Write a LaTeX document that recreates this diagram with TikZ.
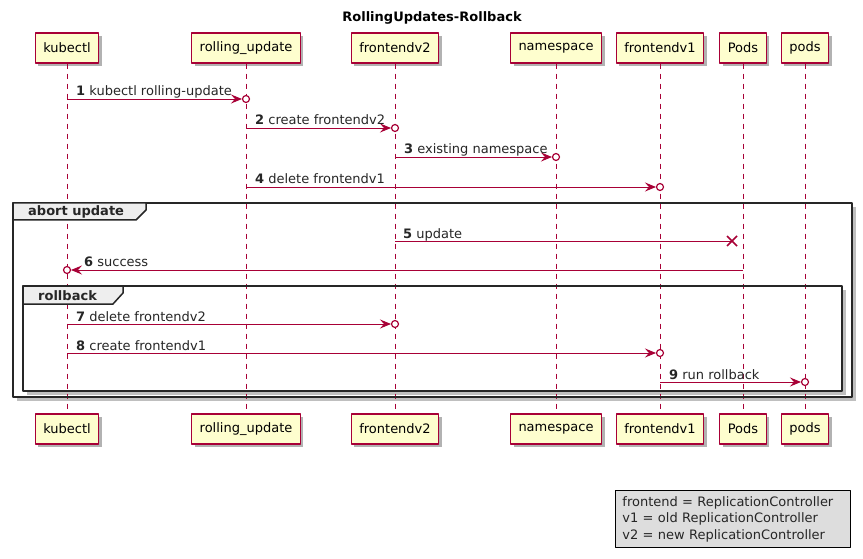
\documentclass[tikz,border=0pt]{standalone}
\usepackage{fontspec}
\setmainfont{DejaVu Sans}
\usetikzlibrary{arrows.meta,shadows}
\definecolor{umlred}{HTML}{A80036}
\definecolor{umlfill}{HTML}{FEFECE}
\definecolor{tabgray}{HTML}{EEEEEE}
\definecolor{notegray}{HTML}{DDDDDD}
\tikzset{
  part/.style={draw=umlred, fill=umlfill, line width=1.2pt, minimum height=30pt, inner xsep=8pt,
    drop shadow={shadow xshift=3pt, shadow yshift=-3pt, opacity=.3, fill=black}},
  life/.style={umlred, line width=.8pt, dash pattern=on 5pt off 5pt},
  msg/.style={umlred, line width=.9pt, -{Stealth[length=11pt,width=9pt,inset=4pt]}, shorten >=4pt},
  endcirc/.style={umlred, line width=1.2pt, fill=white},
  lbl/.style={anchor=base west, inner sep=0pt, text=black!85},
  frm/.style={black!85, line width=1.5pt},
  tabbox/.style={draw=black!85, fill=tabgray, line width=1.5pt},
  frmshadow/.style={fill=black, opacity=.25},
}
\begin{document}
\begin{tikzpicture}[x=1pt, y=-1pt, font=\fontsize{13}{15}\selectfont, line join=round]
\useasboundingbox (0,0) rectangle (863,559);
\node[font=\fontsize{13}{15}\selectfont\bfseries] (title) at (432,18) {RollingUpdates-Rollback};
% participants, top and bottom
\foreach \n/\x/\t in {kubectl/67/kubectl, rolling/246/rolling\_update, fv2/395/frontendv2,
    ns/556/namespace, fv1/660/frontendv1, Pods/743/Pods, pods/805/pods}{
  \node[part] (\n) at (\x,48) {\t};
  \node[part] (b\n) at (\x,429) {\t};
}
% frames: shadows and white ground
\fill[frmshadow] (17,207) rectangle (856,401);
\fill[white] (13,203) rectangle (852,397);
\fill[frmshadow] (27,290) rectangle (846,395);
\fill[white] (23,286) rectangle (842,391);
% lifelines
\foreach \n in {kubectl,rolling,fv2,ns,fv1,Pods,pods}
  \draw[life] (\n.south) -- (b\n.north);
% frame borders and tabs
\draw[frm] (13,203) rectangle (852,397);
\draw[tabbox] (13,203) -- (146,203) -- (146,210) -- (136,220) -- (13,220) -- cycle;
\node[lbl, font=\fontsize{13}{15}\selectfont\bfseries] (abort) at (28,216) {abort update};
\draw[frm] (23,286) rectangle (842,391);
\draw[tabbox] (23,286) -- (123,286) -- (123,293) -- (113,304) -- (23,304) -- cycle;
\node[lbl, font=\fontsize{13}{15}\selectfont\bfseries] (rollback) at (38,300) {rollback};
% messages
\foreach \a/\b/\y/\k/\t in {kubectl/rolling/99/1/kubectl rolling-update, rolling/fv2/128/2/create frontendv2,
    fv2/ns/157/3/existing namespace, rolling/fv1/187/4/delete frontendv1, kubectl/fv2/324/7/delete frontendv2,
    kubectl/fv1/353/8/create frontendv1, fv1/pods/382/9/run rollback}{
  \coordinate (lvl) at (0,\y);
  \draw[msg] (\a |- lvl) -- (\b |- lvl);
  \draw[endcirc] (\b |- lvl) circle (3.5pt);
  \node[lbl] (m\k) at ([xshift=9pt,yshift=3pt]\a |- lvl) {\textbf{\k} \t};
}
\coordinate (l5) at (0,241);
\draw[umlred, line width=.9pt] (fv2 |- l5) -- ([xshift=-11pt]Pods |- l5);
\draw[umlred, line width=1.6pt] ([xshift=-16pt,yshift=5pt]Pods |- l5) -- ([xshift=-6pt,yshift=-5pt]Pods |- l5)
  ([xshift=-16pt,yshift=-5pt]Pods |- l5) -- ([xshift=-6pt,yshift=5pt]Pods |- l5);
\node[lbl] (m5) at ([xshift=8pt,yshift=3pt]fv2 |- l5) {\textbf{5} update};
\coordinate (l6) at (0,270);
\draw[msg] (Pods |- l6) -- (kubectl |- l6);
\draw[endcirc] (kubectl |- l6) circle (3.5pt);
\node[lbl] (m6) at ([xshift=17pt,yshift=3.5pt]kubectl |- l6) {\textbf{6} success};
% legend
\node[draw=black, fill=notegray, line width=.9pt, anchor=north west, text width=221pt, inner xsep=7pt,
  minimum height=57pt, align=left, font=\fontsize{13}{16.5}\selectfont, text=black!85] (legend) at (615,490)
  {frontend = ReplicationController\\v1 = old ReplicationController\\v2 = new ReplicationController};
\end{tikzpicture}
\end{document}
